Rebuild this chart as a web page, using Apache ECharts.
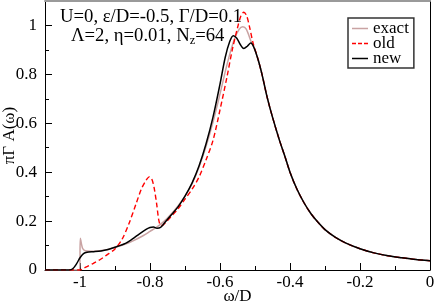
<!DOCTYPE html>
<html>
<head>
<meta charset="utf-8">
<script src="https://cdn.jsdelivr.net/npm/echarts@6/dist/echarts.min.js"></script>
<style>html,body{margin:0;padding:0;background:#fff}#c{width:436px;height:304px}</style>
</head>
<body>
<div id="c"></div>
<script>
// ---- data ----
var exactW = [-1.1,-1.001,-0.999,-0.993,-0.985,-0.97,-0.95,-0.92,-0.9,-0.87,-0.85,-0.82,-0.8,-0.78,-0.76,-0.74,-0.72,-0.7,-0.68,-0.66,-0.64,-0.62,-0.6,-0.58,-0.56,-0.545,-0.535,-0.525,-0.51,-0.503,-0.49,-0.48,-0.465,-0.45,-0.43,-0.414,-0.4,-0.38,-0.36,-0.34,-0.32,-0.3,-0.27,-0.24,-0.2,-0.16,-0.12,-0.08,-0.04,0];
var exactV = [0,0,0.13,0.09,0.079,0.077,0.078,0.084,0.093,0.106,0.118,0.14,0.158,0.176,0.199,0.228,0.262,0.302,0.352,0.42,0.505,0.605,0.72,0.84,0.94,0.985,0.995,0.985,0.93,0.91,0.855,0.8,0.705,0.625,0.53,0.462,0.4,0.33,0.275,0.23,0.195,0.165,0.133,0.11,0.087,0.07,0.058,0.05,0.043,0.038];

var oldW = [-1.1,-1.0,-0.99,-0.98,-0.962,-0.94,-0.924,-0.9,-0.88,-0.86,-0.84,-0.825,-0.812,-0.802,-0.795,-0.788,-0.781,-0.775,-0.77,-0.765,-0.755,-0.74,-0.72,-0.7,-0.68,-0.66,-0.64,-0.62,-0.6,-0.58,-0.565,-0.55,-0.54,-0.532,-0.524,-0.515,-0.505,-0.495,-0.49,-0.48,-0.465,-0.45,-0.43,-0.414,-0.4,-0.38,-0.36,-0.34,-0.32,-0.3,-0.27,-0.24,-0.2,-0.16,-0.12,-0.08,-0.04,0];
var oldV = [0,0,0.007,0.014,0.027,0.045,0.061,0.086,0.125,0.19,0.27,0.33,0.365,0.381,0.372,0.335,0.27,0.205,0.183,0.182,0.195,0.218,0.25,0.29,0.33,0.38,0.45,0.53,0.655,0.79,0.9,0.99,1.04,1.054,1.04,0.99,0.925,0.88,0.855,0.8,0.705,0.625,0.53,0.462,0.4,0.33,0.275,0.23,0.195,0.165,0.133,0.11,0.087,0.07,0.058,0.05,0.043,0.038];

var newW = [-1.1,-1.03,-1.02,-1.01,-1.0,-0.99,-0.98,-0.96,-0.94,-0.92,-0.9,-0.87,-0.85,-0.83,-0.81,-0.8,-0.79,-0.78,-0.77,-0.76,-0.74,-0.72,-0.7,-0.68,-0.66,-0.64,-0.62,-0.6,-0.585,-0.572,-0.562,-0.552,-0.542,-0.532,-0.522,-0.512,-0.503,-0.49,-0.48,-0.465,-0.45,-0.43,-0.414,-0.4,-0.38,-0.36,-0.34,-0.32,-0.3,-0.27,-0.24,-0.2,-0.16,-0.12,-0.08,-0.04,0];
var newV = [0,0,0.006,0.025,0.05,0.067,0.073,0.075,0.078,0.084,0.093,0.109,0.127,0.148,0.167,0.174,0.176,0.171,0.174,0.19,0.224,0.258,0.302,0.355,0.425,0.515,0.625,0.76,0.87,0.935,0.958,0.948,0.922,0.906,0.915,0.928,0.91,0.855,0.8,0.705,0.625,0.53,0.462,0.4,0.33,0.275,0.23,0.195,0.165,0.133,0.11,0.087,0.07,0.058,0.05,0.043,0.038];

var xMajor = [-1,-0.8,-0.6,-0.4,-0.2,0];
var xMinor = [-0.9,-0.7,-0.5,-0.3,-0.1];
var yMajor = [0,0.2,0.4,0.6,0.8,1];
var yMinor = [0.1,0.3,0.5,0.7,0.9];
var seriesNames = ['exact','old','new'];
var note1 = 'U=0, \u03b5/D=-0.5, \u0393/D=0.1';
var note2a = '\u039b=2, \u03b7=0.01, N', note2sub = 'z', note2b = '=64';

function pairs(w, v){ return w.map(function(x,i){ return [x, v[i]]; }); }

var FONT = 'Liberation Serif';
var chart = echarts.init(document.getElementById('c'), null, {renderer:'canvas'});
var X0 = -1.1, X1 = 0, Y0 = 0, Y1 = 1.1;
var G = {left: 45, right: 6, top: 1, bottom: 34, containLabel: false, outerBoundsMode: 'none'};
var solidIcon = 'path://M0,0H16V1.5H0Z';
var dashIcon = 'path://M0,0H4V1.5H0Z M6,0H10V1.5H6Z M12,0H16V1.5H12Z';
chart.setOption({
  animation: false,
  backgroundColor: '#fff',
  textStyle: {fontFamily: FONT},
  grid: [Object.assign({}, G), Object.assign({}, G)],
  xAxis: [
    {type:'value', gridIndex:0, min:X0, max:X1, position:'bottom',
     name:'\u03c9/D', nameLocation:'middle', nameGap:18, nameMoveOverlap:false,
     nameTextStyle:{fontFamily:FONT, fontSize:17, color:'#000'},
     axisLine:{show:true, onZero:false, lineStyle:{color:'#000', width:1}},
     axisTick:{show:true, inside:true, length:7, customValues:xMajor, lineStyle:{color:'#000'}},
     axisLabel:{show:true, customValues:xMajor, margin:4, fontFamily:FONT, fontSize:17, color:'#000'},
     splitLine:{show:false}},
    {type:'value', gridIndex:0, min:X0, max:X1, position:'top',
     axisLine:{show:true, onZero:false, lineStyle:{color:'#9a9a9a', width:2}},
     axisTick:{show:false}, axisLabel:{show:false}, splitLine:{show:false}},
    {type:'value', gridIndex:1, min:X0, max:X1, position:'bottom',
     axisLine:{show:false, onZero:false}, axisLabel:{show:false}, splitLine:{show:false},
     axisTick:{show:true, inside:true, length:4, customValues:xMinor, lineStyle:{color:'#000'}}}
  ],
  yAxis: [
    {type:'value', gridIndex:0, min:Y0, max:Y1, position:'left',
     name:'\u03c0\u0393 A(\u03c9)', nameLocation:'middle', nameGap:27, nameRotate:90, nameMoveOverlap:false,
     nameTextStyle:{fontFamily:FONT, fontSize:17, color:'#000'},
     axisLine:{show:true, onZero:false, lineStyle:{color:'#000', width:1}},
     axisTick:{show:true, inside:true, length:7, customValues:yMajor, lineStyle:{color:'#000'}},
     axisLabel:{show:true, customValues:yMajor, margin:8, fontFamily:FONT, fontSize:17, color:'#000'},
     splitLine:{show:false}},
    {type:'value', gridIndex:0, min:Y0, max:Y1, position:'right',
     axisLine:{show:true, onZero:false, lineStyle:{color:'#000', width:1}},
     axisTick:{show:false}, axisLabel:{show:false}, splitLine:{show:false}},
    {type:'value', gridIndex:1, min:Y0, max:Y1, position:'left',
     axisLine:{show:false, onZero:false}, axisLabel:{show:false}, splitLine:{show:false},
     axisTick:{show:true, inside:true, length:4, customValues:yMinor, lineStyle:{color:'#000'}}}
  ],
  legend: {
    show:true, orient:'vertical', left:348, top:18,
    data: [
      {name:seriesNames[0], icon:solidIcon},
      {name:seriesNames[1], icon:dashIcon},
      {name:seriesNames[2], icon:solidIcon}
    ],
    itemWidth:16, itemHeight:1.5, itemGap:-2,
    padding:[2,5,1,4],
    borderColor:'#333', borderWidth:1.5, backgroundColor:'#fff',
    textStyle:{fontFamily:FONT, fontSize:17, color:'#000', lineHeight:16}
  },
  graphic: [
    {type:'text', left:60, top:8, style:{text:note1, fontFamily:FONT, fontSize:18.7, fill:'#000'}},
    {type:'text', left:71, top:27, style:{text:'{a|'+note2a+'}{s|'+note2sub+'}{a|'+note2b+'}', fontFamily:FONT, fill:'#000',
      rich:{a:{fontFamily:FONT, fontSize:18.7, color:'#000'}, s:{fontFamily:FONT, fontSize:12.5, color:'#000', padding:[8,0,0,0]}}}}
  ],
  series: [
    {name:'exact', type:'line', xAxisIndex:0, yAxisIndex:0, data:pairs(exactW, exactV), showSymbol:false, symbol:'none', smooth:0.3,
     lineStyle:{color:'#c9a3a3', width:1.5}, itemStyle:{color:'#c9a3a3'}, z:2},
    {name:'old', type:'line', xAxisIndex:0, yAxisIndex:0, data:pairs(oldW, oldV), showSymbol:false, symbol:'none', smooth:0.3,
     lineStyle:{color:'#ff0000', width:1.4, type:[5,3]}, itemStyle:{color:'#ff0000'}, z:3},
    {name:'new', type:'line', xAxisIndex:0, yAxisIndex:0, data:pairs(newW, newV), showSymbol:false, symbol:'none', smooth:0.3,
     lineStyle:{color:'#000000', width:1.5}, itemStyle:{color:'#000'}, z:4}
  ]
});
</script>
</body>
</html>
